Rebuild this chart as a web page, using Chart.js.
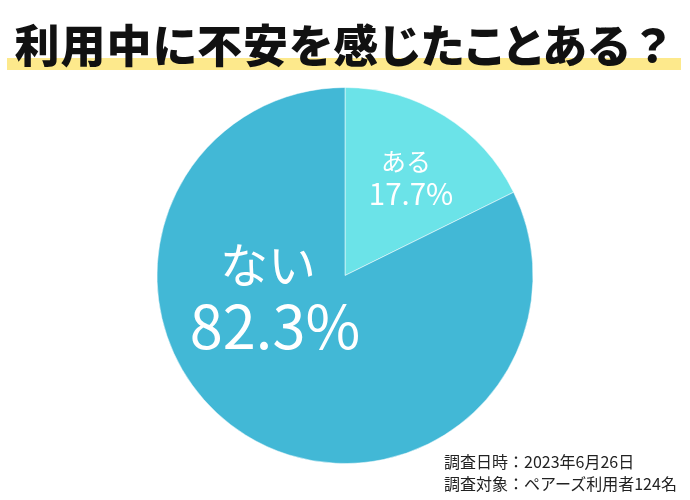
<!DOCTYPE html>
<html lang="ja">
<head>
<meta charset="utf-8">
<script src="https://cdn.jsdelivr.net/npm/chart.js@4"></script>
<style>
  html, body { margin: 0; padding: 0; background: #fff; }
  #wrap { position: relative; width: 690px; height: 500px; overflow: hidden; }
  #title {
    position: absolute; left: 0; top: 14px; width: 690px; text-align: center;
    font-family: "Noto Sans CJK JP", sans-serif; font-weight: 900; font-size: 45px;
    font-feature-settings: "palt"; letter-spacing: 1px;
    color: #111; line-height: 60px; z-index: 2; white-space: nowrap;
  }
  #title span { font-feature-settings: normal; letter-spacing: 0; }
  #band { position: absolute; left: 7px; top: 58px; width: 674px; height: 12px; background: #fde98c; z-index: 1; }
  #note {
    position: absolute; left: 444px; top: 450px; font-family: "Noto Sans CJK JP", sans-serif;
    font-size: 16px; line-height: 22px; color: #222; z-index: 2;
  }
  canvas { position: absolute; left: 0; top: 0; }
</style>
</head>
<body>
<div id="wrap">
  <div id="band"></div>
  <div id="title">利用中に不安を感じたことある<span>？</span></div>
  <canvas id="pie" width="690" height="500"></canvas>
  <div id="note">調査日時：2023年6月26日<br>調査対象：ペアーズ利用者124名</div>
</div>
<script>
// answers and share (%)
const labels = ["ある", "ない"];
const values = [17.7, 82.3];
const colors = ["#6be3e8", "#42b8d6"];

// label text drawn inside each slice
const sliceText = {
  id: "sliceText",
  afterDatasetsDraw(chart) {
    const ctx = chart.ctx;
    const arcs = chart.getDatasetMeta(0).data;
    const cx = arcs[0].x, cy = arcs[0].y;
    ctx.save();
    ctx.fillStyle = "#fff";
    ctx.textAlign = "center";
    ctx.textBaseline = "middle";
    ctx.font = "400 25px 'Noto Sans CJK JP'";
    ctx.fillText(labels[0], cx + 61, cy - 114);
    ctx.font = "400 29.5px 'Noto Sans CJK JP'";
    ctx.fillText(values[0].toFixed(1) + "%", cx + 66, cy - 82);
    ctx.font = "400 48px 'Noto Sans CJK JP'";
    ctx.fillText(labels[1], cx - 77, cy - 11);
    ctx.font = "400 59.5px 'Noto Sans CJK JP'";
    ctx.fillText(values[1].toFixed(1) + "%", cx - 70, cy + 51);
    ctx.restore();
  }
};

new Chart(document.getElementById("pie"), {
  type: "pie",
  data: {
    labels,
    datasets: [{
      data: values,
      backgroundColor: colors,
      borderColor: "rgba(255,255,255,0.5)",
      borderWidth: 1,
    }],
  },
  options: {
    responsive: false,
    animation: false,
    layout: { padding: { top: 87, bottom: 36, left: 0, right: 0 } },
    plugins: {
      legend: { display: false },
      tooltip: { enabled: false },
    },
  },
  plugins: [sliceText],
});
</script>
</body>
</html>
